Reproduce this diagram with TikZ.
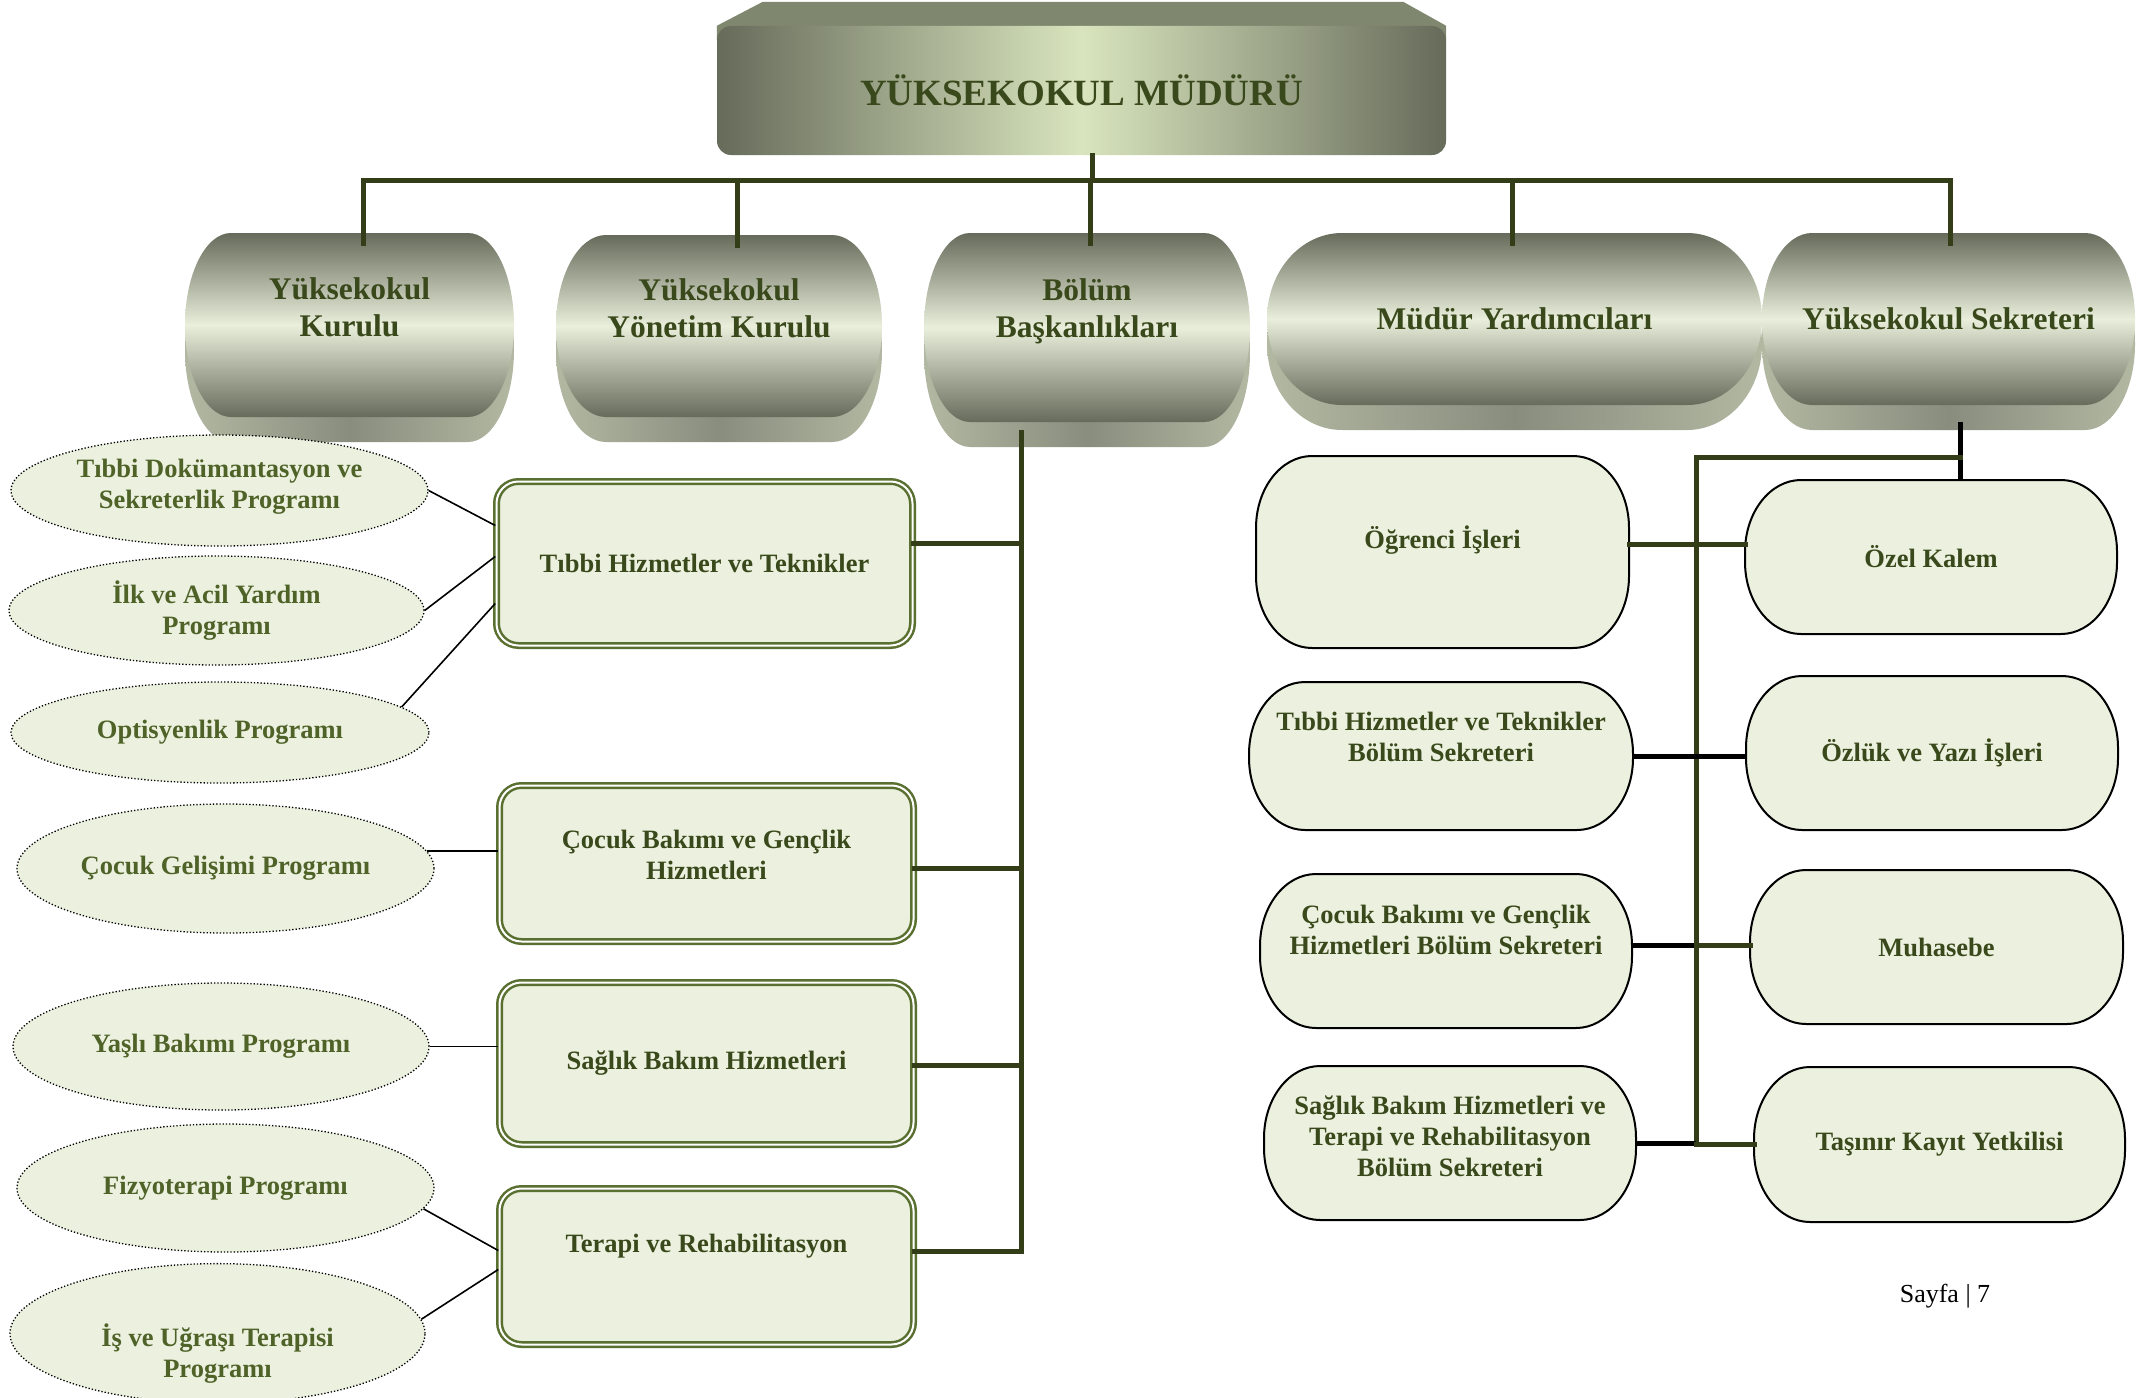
\documentclass[tikz,border=0pt]{standalone}
\usepackage{fontspec}
\setmainfont{Liberation Serif}
\usetikzlibrary{shapes.geometric,backgrounds,calc}

\definecolor{lineolive}{HTML}{333E19}
\definecolor{txtdark}{HTML}{3A491B}
\definecolor{txtolive}{HTML}{4F6228}
\definecolor{boxfill}{HTML}{EBF1DE}
\definecolor{boxline}{HTML}{5A7031}
\definecolor{cyldark}{HTML}{676B5B}
\definecolor{cyllight}{HTML}{E9EFDB}
\definecolor{cylbase}{HTML}{898D7E}
\definecolor{cylside}{HTML}{B3B8A2}
\definecolor{topdark}{HTML}{666B5A}
\definecolor{toplight}{HTML}{D9E5BE}
\definecolor{topbevel}{HTML}{7F876F}

\newcommand{\lowstrut}[1]{\rule[-#1]{0pt}{0pt}}
\newcommand{\highstrut}[1]{\rule{0pt}{#1}}

\begin{document}
\begin{tikzpicture}
[
x=1pt, y=1pt,
topbox/.style={rectangle, rounded corners=14pt, left color=topdark, right color=topdark, middle color=toplight, text=txtdark, font=\bfseries\fontsize{37}{40}\selectfont, minimum width=729pt, minimum height=129pt},
barrel/.style={rectangle, outer sep=0pt, text=txtdark, align=center, font=\bfseries\fontsize{31.5}{37}\selectfont},
unitbox/.style={rectangle, rounded corners=22pt, draw=boxline, double=white, double distance=2pt, line width=2.5pt, fill=boxfill, text=txtdark, align=center, font=\bfseries\fontsize{26.5}{31}\selectfont},
progoval/.style={ellipse, inner sep=0pt, draw=black, dotted, line width=1.3pt, fill=boxfill, text=txtolive, align=center, font=\bfseries\fontsize{26.5}{31}\selectfont},
pill/.style={rectangle, outer sep=0pt, text=txtdark, align=center, font=\bfseries\fontsize{26.5}{31}\selectfont},
conn/.style={draw=lineolive, line width=5pt, line cap=rect},
blk/.style={draw=black, line width=5pt},
prog/.style={draw=black, line width=1.6pt},
]
\useasboundingbox (0,0) rectangle (2140,-1397);

%Nodes
\node[topbox] (mudur) at (1081.5,-90.5) {YÜKSEKOKUL MÜDÜRÜ};

\node[barrel, minimum width=329pt, minimum height=184pt] (kurul) at (349.5,-325) {Yüksekokul\\Kurulu\lowstrut{35pt}};
\node[barrel, minimum width=326pt, minimum height=182pt] (yonetim) at (719,-326) {Yüksekokul\\Yönetim Kurulu\lowstrut{35pt}};
\node[barrel, minimum width=326pt, minimum height=189pt] (bolum) at (1087,-327.5) {Bölüm\\Başkanlıkları\lowstrut{38pt}};
\node[barrel, minimum width=495pt, minimum height=172pt] (yardimci) at (1514.5,-319) {Müdür Yardımcıları};
\node[barrel, minimum width=373pt, minimum height=172pt] (sekreter) at (1948.5,-319) {Yüksekokul Sekreteri};

\node[unitbox, minimum width=416pt, minimum height=164pt] (tibbi) at (704.5,-563.5) {Tıbbi Hizmetler ve Teknikler};
\node[unitbox, minimum width=414pt, minimum height=156pt] (cocuk) at (706.5,-863.5) {Çocuk Bakımı ve Gençlik\\Hizmetleri\lowstrut{17pt}};
\node[unitbox, minimum width=414pt, minimum height=162pt] (saglik) at (706.5,-1063.5) {Sağlık Bakım Hizmetleri};
\node[unitbox, minimum width=414pt, minimum height=156pt] (terapi) at (706.5,-1266.5) {Terapi ve Rehabilitasyon\lowstrut{47pt}};

\node[progoval, minimum width=417pt, minimum height=111pt] (e1) at (219.5,-490.5) {Tıbbi Dokümantasyon ve\\Sekreterlik Programı\lowstrut{14pt}};
\node[progoval, minimum width=415pt, minimum height=109pt] (e2) at (216.5,-610.5) {İlk ve Acil Yardım\\Programı};
\node[progoval, minimum width=418pt, minimum height=101pt] (e3) at (220,-732.5) {Optisyenlik Programı};
\node[progoval, minimum width=417pt, minimum height=129pt] (e4) at (225.5,-868.5) {Çocuk Gelişimi Programı};
\node[progoval, minimum width=416pt, minimum height=127pt] (e5) at (221,-1046.5) {Yaşlı Bakımı Programı};
\node[progoval, minimum width=417pt, minimum height=128pt] (e6) at (225.5,-1188) {Fizyoterapi Programı};
\node[progoval, minimum width=415pt, minimum height=127pt] (e7) at (217.5,-1333.5) {\highstrut{62pt}İş ve Uğraşı Terapisi\\Programı};

\node[pill, minimum width=373pt, minimum height=192pt] (ogr) at (1442.5,-552) {Öğrenci İşleri\lowstrut{30pt}};
\node[pill, minimum width=372pt, minimum height=154pt] (ozel) at (1931,-557) {Özel Kalem};
\node[pill, minimum width=384pt, minimum height=148pt] (tsek) at (1441,-756) {Tıbbi Hizmetler ve Teknikler\\Bölüm Sekreteri\lowstrut{38pt}};
\node[pill, minimum width=372pt, minimum height=154pt] (ozluk) at (1932,-753) {Özlük ve Yazı İşleri};
\node[pill, minimum width=372pt, minimum height=154pt] (csek) at (1446,-951) {Çocuk Bakımı ve Gençlik\\Hizmetleri Bölüm Sekreteri\lowstrut{42pt}};
\node[pill, minimum width=373pt, minimum height=154pt] (muh) at (1936.5,-947) {Muhasebe};
\node[pill, minimum width=372pt, minimum height=154pt] (ssek) at (1450,-1143) {Sağlık Bakım Hizmetleri ve\\Terapi ve Rehabilitasyon\\Bölüm Sekreteri\lowstrut{14pt}};
\node[pill, minimum width=371pt, minimum height=155pt] (tasinir) at (1939.5,-1144.5) {Taşınır Kayıt Yetkilisi};

\node[font=\fontsize{26}{28}\selectfont] (sayfa) at (1945,-1296) {Sayfa | 7};

%Shapes behind the nodes
\begin{scope}[on background layer]
\path[fill=topbevel] ([yshift=-14]mudur.north west) -- (mudur.north west) -- ([xshift=46,yshift=24]mudur.north west) -- ([xshift=-43,yshift=24]mudur.north east) -- (mudur.north east) -- ([yshift=-14]mudur.north east) -- cycle;
\foreach \c/\a in {kurul/46,yonetim/50,bolum/46,yardimci/75,sekreter/50}{
  \path[left color=cylside, right color=cylside, middle color=cylbase]
    let \p1=(\c.south west), \p2=(\c.north east), \n1={(\y2-\y1)/2} in
    (\x1+\a,\y1-25) -- (\x2-\a,\y1-25)
    arc[start angle=-90, end angle=90, x radius=\a*1pt, y radius=\n1]
    -- (\x1+\a,\y2-25)
    arc[start angle=90, end angle=270, x radius=\a*1pt, y radius=\n1] -- cycle;
  \path[top color=cyldark, bottom color=cyldark, middle color=cyllight]
    let \p1=(\c.south west), \p2=(\c.north east), \n1={(\y2-\y1)/2} in
    (\x1+\a,\y1) -- (\x2-\a,\y1)
    arc[start angle=-90, end angle=90, x radius=\a*1pt, y radius=\n1]
    -- (\x1+\a,\y2)
    arc[start angle=90, end angle=270, x radius=\a*1pt, y radius=\n1] -- cycle;
}
\foreach \c in {ogr,ozel,tsek,ozluk,csek,muh,ssek,tasinir}
  \path[draw=black, line width=2pt, fill=boxfill]
    let \p1=(\c.south west), \p2=(\c.north east) in
    (\x1+56,\y1) -- (\x2-56,\y1)
    arc[start angle=-90, end angle=0, x radius=56pt, y radius=72pt]
    -- (\x2,\y2-72)
    arc[start angle=0, end angle=90, x radius=56pt, y radius=72pt]
    -- (\x1+56,\y2)
    arc[start angle=90, end angle=180, x radius=56pt, y radius=72pt]
    -- (\x1,\y1+72)
    arc[start angle=180, end angle=270, x radius=56pt, y radius=72pt] -- cycle;
\end{scope}

%Lines
\coordinate (hub) at (1092,-180);
\draw[conn] (hub |- mudur.south) -- (hub);
\draw[conn] ([xshift=14]kurul.north |- hub) -- ([xshift=2]sekreter.north |- hub);
\foreach \c/\dx in {kurul/14,yonetim/18,bolum/3,yardimci/-2,sekreter/2}
  \draw[conn] ([xshift=\dx]\c.north |- hub) -- ([xshift=\dx,yshift=-10]\c.north);

\coordinate (btop) at (1021,-432);
\coordinate (bbot) at (1021,-1251);
\draw[conn] (btop) -- (bbot);
\draw[conn] ([yshift=20]tibbi.east) -- ([yshift=20]tibbi.east -| btop);
\draw[conn] ([yshift=-5]cocuk.east) -- ([yshift=-5]cocuk.east -| btop);
\draw[conn] ([yshift=-2]saglik.east) -- ([yshift=-2]saglik.east -| btop);
\draw[conn] ([yshift=15.5]terapi.east) -- ([yshift=15.5]terapi.east -| bbot);

\draw[prog] (e1.east) -- ([yshift=38]tibbi.west);
\draw[prog] (e2.east) -- ([yshift=7]tibbi.west);
\draw[prog] (e3.8) -- ([yshift=-40]tibbi.west);
\draw[prog] (e4.5) -- (e4.5 -| cocuk.west);
\draw[prog] (e5.east) -- (e5.east -| saglik.west);
\draw[prog] (e6.-6) -- ([yshift=16]terapi.west);
\draw[prog] (e7.4) -- ([yshift=-3]terapi.west);

\coordinate (rtop) at (1696,-457);
\coordinate (rbot) at (1696,-1144);
\coordinate (sdrop) at (1960,-422);
\draw[blk] (sdrop) -- (sdrop |- ozel.north);
\draw[conn] (rtop) -- (rtop -| sdrop);
\draw[conn] (rtop) -- (rbot);
\draw[conn] ([yshift=8]ogr.east) -- ([yshift=8]ogr.east -| ozel.west);
\draw[blk] (tsek.east) -- (tsek.east -| ozluk.west);
\draw[blk] ([yshift=6]csek.east) -- ([yshift=6]csek.east -| rtop);
\draw[conn] ([yshift=6]csek.east -| rtop) -- ([yshift=6]csek.east -| muh.west);
\draw[blk] (ssek.east) -- (ssek.east -| rtop);
\draw[conn] (tasinir.west -| rtop) -- (tasinir.west);
\end{tikzpicture}
\end{document}
